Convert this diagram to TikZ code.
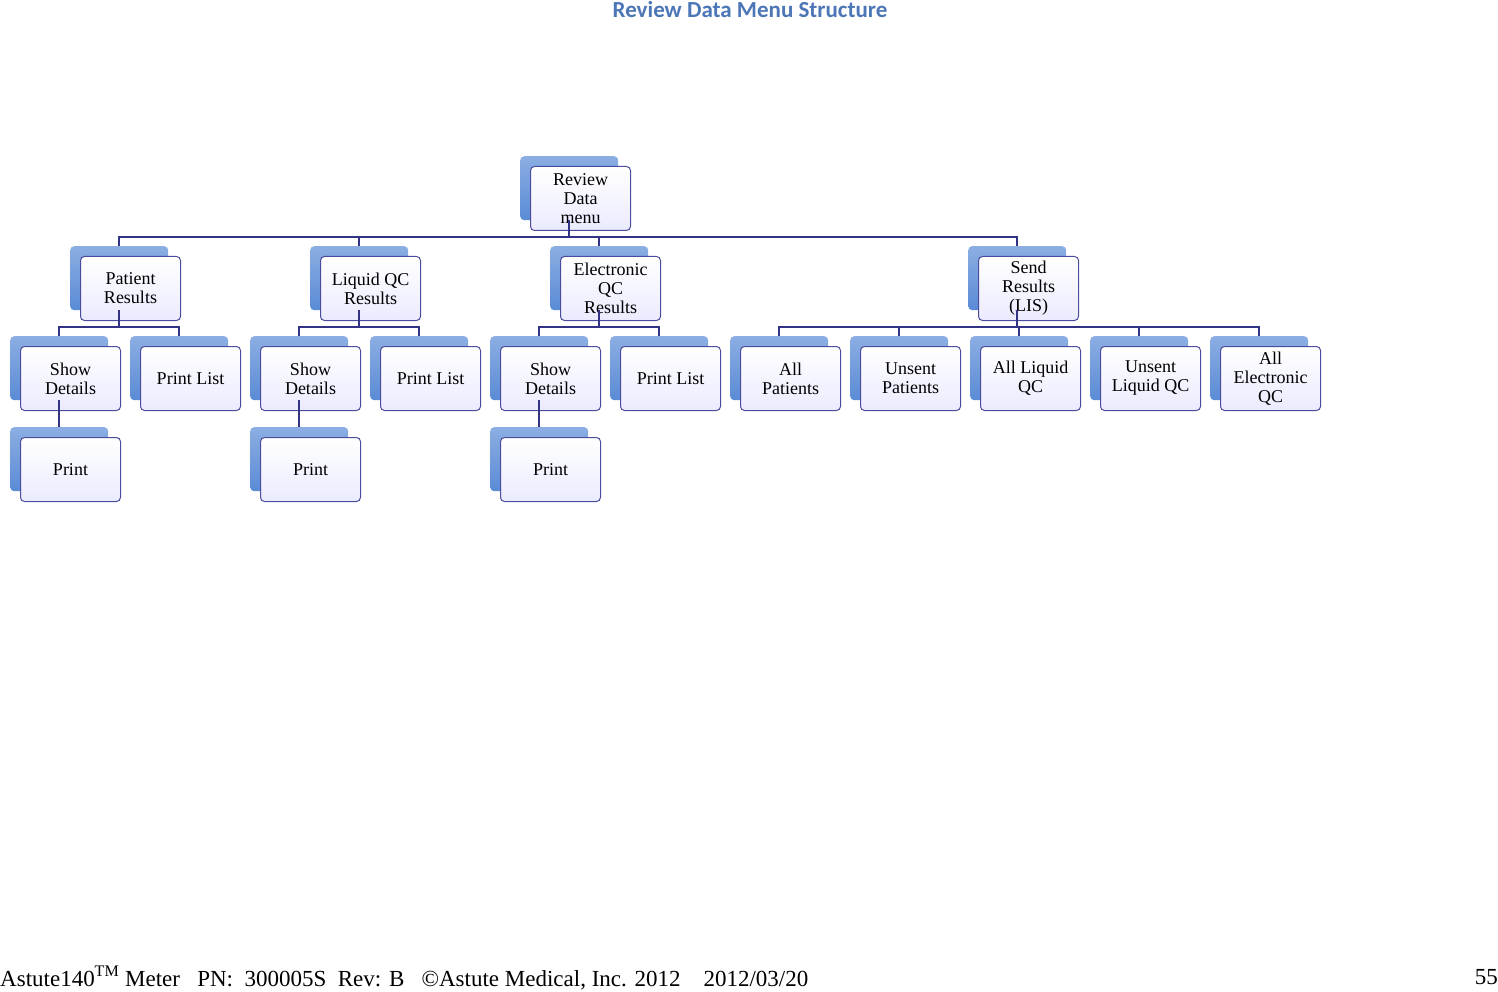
\documentclass[tikz,border=0pt]{standalone}
\usepackage{fontspec}
\setmainfont{Liberation Serif}
\newfontfamily\titlefont{Carlito}
\begin{document}
\begin{tikzpicture}[x=1pt,y=1pt,
  back/.style={draw=none,rounded corners=4pt,top color=blue!25!cyan!30!white!70!blue,bottom color=blue!55!cyan!60!black!20!white,
    minimum width=98pt,minimum height=64pt,anchor=north west,inner sep=0pt},
  front/.style={draw=blue!45!black!70!white,line width=1pt,rounded corners=4pt,top color=white,bottom color=blue!8!white,
    minimum width=100pt,minimum height=64pt,anchor=north west,inner sep=1pt,align=center,
    font=\fontsize{18}{19}\selectfont},
  conn/.style={draw=blue!40!black!80!white,line width=2pt}]
\useasboundingbox (0,0) rectangle (1498,-992);
\definecolor{bk}{HTML}{5A8BD6}
\tikzset{back/.append style={top color=bk!70!white,bottom color=bk}}
\newcommand\nd[4]{%
  \node[back] (#1) at (#2,-#3) {};
  \node[front] (#1f) at (#2+10,-#3-10) {#4};}
\nd{rv}{520}{156}{Review\\Data\\menu}
\nd{pr}{70}{246}{Patient\\Results}
\nd{lq}{310}{246}{Liquid QC\\Results}
\nd{el}{550}{246}{Electronic\\QC\\Results}
\nd{sd}{968}{246}{Send\\Results\\(LIS)}
\nd{s1}{10}{336}{Show\\Details}
\nd{p1}{130}{336}{Print List}
\nd{s2}{250}{336}{Show\\Details}
\nd{p2}{370}{336}{Print List}
\nd{s3}{490}{336}{Show\\Details}
\nd{p3}{610}{336}{Print List}
\nd{a1}{730}{336}{All\\Patients}
\nd{a2}{850}{336}{Unsent\\Patients}
\nd{a3}{970}{336}{All Liquid\\QC}
\nd{a4}{1090}{336}{Unsent\\Liquid QC}
\nd{a5}{1210}{336}{All\\Electronic\\QC}
\nd{q1}{10}{427}{Print}
\nd{q2}{250}{427}{Print}
\nd{q3}{490}{427}{Print}
\foreach \c in {pr,lq,el,sd} \draw[conn,line width=2.5pt] (\c.north) -- ++(0,9) -| (rv.south);
\foreach \p/\c in {pr/s1,pr/p1,lq/s2,lq/p2,el/s3,el/p3,sd/a1,sd/a2,sd/a3,sd/a4,sd/a5}
  \draw[conn] (\c.north) -- ++(0,9) -| (\p.south);
\foreach \p/\c in {s1/q1,s2/q2,s3/q3} \draw[conn] (\p.south) -- (\c.north);
\node[font=\titlefont\bfseries\fontsize{23}{24}\selectfont,text=bk!85!black] (tt) at (750,-10) {Review Data Menu Structure};
\node[anchor=base west,inner sep=0pt,font=\fontsize{23}{24}\selectfont] (ft) at (0,-986) {Astute140\textsuperscript{TM} Meter\ \ \ PN:\ \ 300005S\ \ Rev: B\ \ \ ©Astute Medical, Inc. 2012\ \ \ \ 2012/03/20};
\node[anchor=base east,inner sep=0pt,font=\fontsize{23}{24}\selectfont] (pg) at (1498,-984) {55};
\end{tikzpicture}
\end{document}
